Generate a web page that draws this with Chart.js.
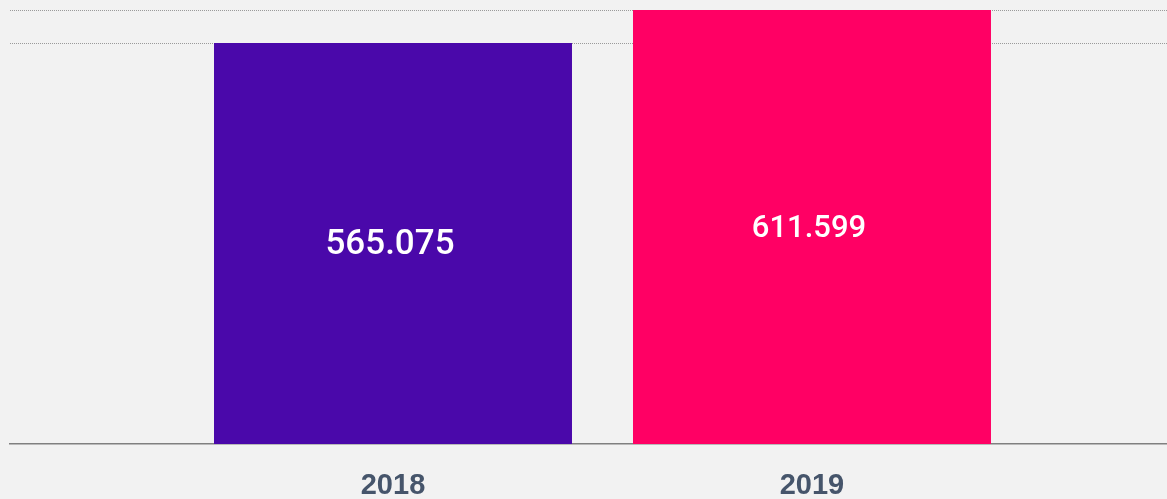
<!DOCTYPE html>
<html>
<head>
<meta charset="utf-8">
<script src="https://cdn.jsdelivr.net/npm/chart.js@4/dist/chart.umd.min.js"></script>
<style>
  html, body { margin: 0; padding: 0; background: #f2f2f2; }
  #wrap { width: 1167px; height: 499px; position: relative; }
</style>
</head>
<body>
<div id="wrap"><canvas id="c"></canvas></div>
<script>
// ---- data ----
const years = ['2018', '2019'];
const values = [565075, 611599];
const barColors = ['#4a08aa', '#ff0064'];

function fmt(v) {
  return String(v).replace(/\B(?=(\d{3})+(?!\d))/g, '.');
}

const valueLabelPlugin = {
  id: 'valueLabels',
  afterDatasetsDraw(chart) {
    const ctx = chart.ctx;
    const meta = chart.getDatasetMeta(0);
    const fonts = ['500 35px Roboto, "Liberation Sans", sans-serif',
                   '500 31px Roboto, "Liberation Sans", sans-serif'];
    ctx.save();
    ctx.fillStyle = '#ffffff';
    ctx.textAlign = 'center';
    ctx.textBaseline = 'middle';
    meta.data.forEach((bar, i) => {
      const p = bar.getProps(['x', 'y', 'base'], true);
      ctx.font = fonts[i];
      ctx.fillText(fmt(values[i]), p.x - 3, (p.y + p.base) / 2 + 2);
    });
    ctx.restore();
  }
};

new Chart(document.getElementById('c'), {
  type: 'bar',
  data: {
    datasets: [{
      data: years.map((y, i) => ({ x: i, y: values[i] })),
      backgroundColor: barColors,
      borderWidth: 0,
      barPercentage: 0.8544,
      categoryPercentage: 1
    }]
  },
  options: {
    responsive: true,
    maintainAspectRatio: false,
    animation: false,
    layout: { padding: { left: 10, right: 0, top: 10, bottom: 0 } },
    plugins: { legend: { display: false }, tooltip: { enabled: false } },
    scales: {
      x: {
        type: 'linear',
        offset: false,
        min: -0.9141,
        max: 1.8473,
        afterBuildTicks: (axis) => { axis.ticks = years.map((_, i) => ({ value: i })); },
        afterFit: (axis) => { axis.height = 55; },
        grid: { display: false, drawTicks: false, offset: false },
        border: { display: true, color: '#808080', width: 1.5 },
        ticks: {
          padding: 27,
          color: '#46556b',
          font: { family: '"Liberation Sans", Arial, sans-serif', size: 29, weight: 'bold', lineHeight: 1 },
          callback: (v) => years[v] ?? ''
        }
      },
      y: {
        min: 0,
        max: values[1],
        afterBuildTicks: (axis) => { axis.ticks = values.map(v => ({ value: v })); },
        afterFit: (axis) => { axis.width = 0; },
        grid: { display: true, drawTicks: false, color: '#9a9a9a', lineWidth: 1 },
        border: { display: false, dash: [1, 1] },
        ticks: { display: false }
      }
    }
  },
  plugins: [valueLabelPlugin]
});
</script>
</body>
</html>
